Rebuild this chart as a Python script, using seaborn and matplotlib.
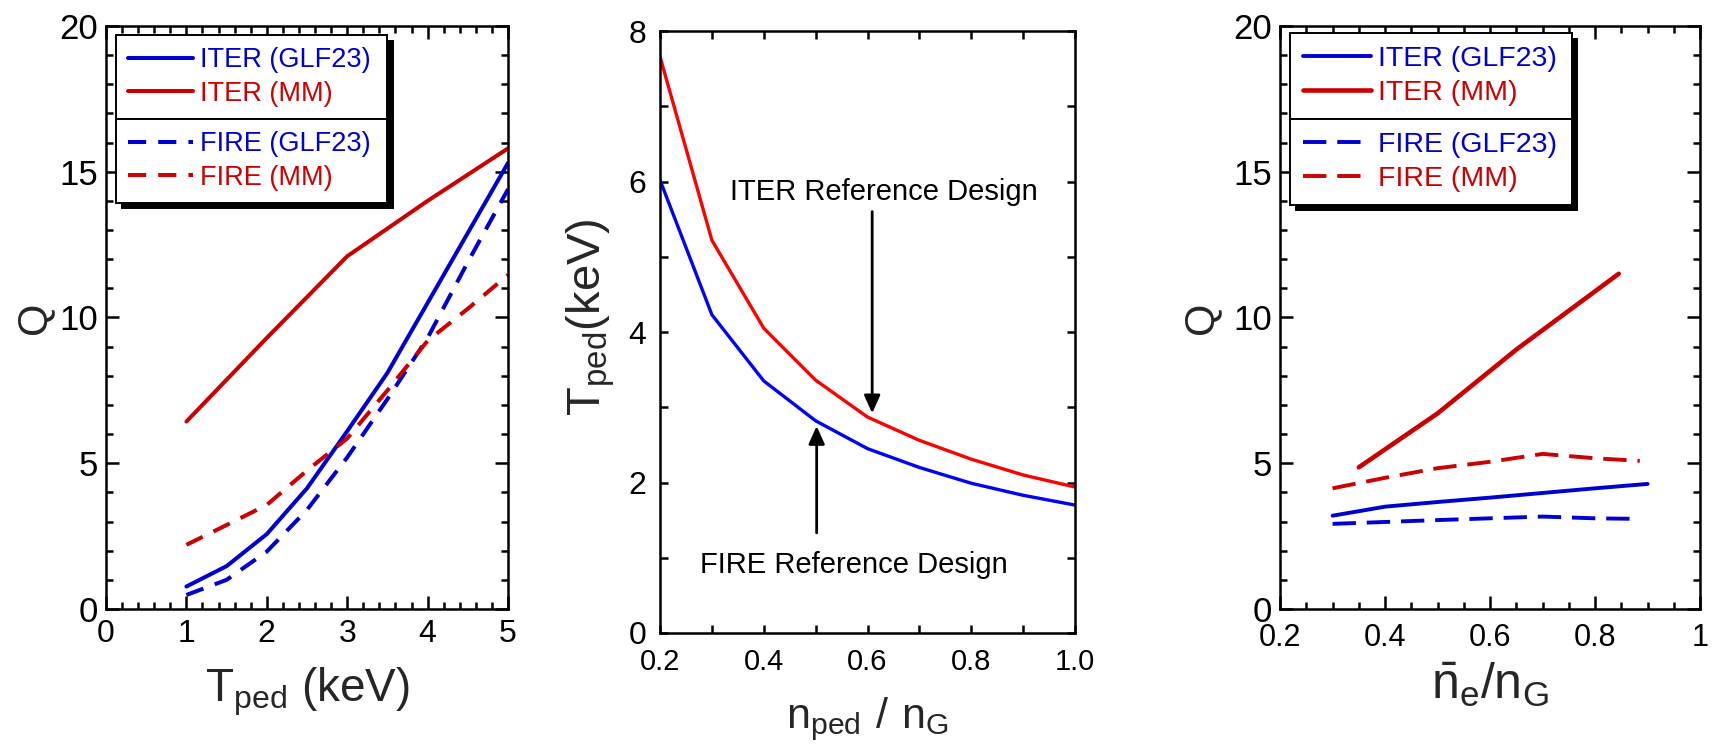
import numpy as np
import pandas as pd
import matplotlib
matplotlib.use("Agg")
import matplotlib.pyplot as plt
import seaborn as sns
from matplotlib.ticker import MultipleLocator, FixedLocator
from matplotlib.font_manager import FontProperties

# ---------------- data ----------------
# Left panel: Q vs T_ped
t_ped = [1, 1.5, 2, 2.5, 3, 3.5, 4, 4.5, 5]
t_ped_mm = [1, 2, 3, 4, 5]
q_iter_glf23 = [0.77, 1.47, 2.57, 4.14, 6.1, 8.1, 10.5, 12.9, 15.3]
q_iter_mm = [6.43, 9.3, 12.1, 14.0, 15.8]
q_fire_glf23 = [0.48, 1.0, 1.97, 3.4, 5.2, 7.2, 9.3, 11.9, 14.4]
q_fire_mm = [2.2, 2.88, 3.57, 4.75, 5.85, 7.5, 9.2, 10.3, 11.46]

# Middle panel: T_ped vs n_ped/n_G
n_ped = [0.2, 0.3, 0.4, 0.5, 0.6, 0.7, 0.8, 0.9, 1.0]
tped_iter = [7.66, 5.22, 4.05, 3.36, 2.87, 2.56, 2.31, 2.10, 1.94]
tped_fire = [6.02, 4.23, 3.35, 2.82, 2.45, 2.20, 1.99, 1.83, 1.70]

# Right panel: Q vs nbar_e/n_G
ne_iter_glf23 = [0.3, 0.4, 0.5, 0.6, 0.7, 0.8, 0.9]
qn_iter_glf23 = [3.2, 3.51, 3.67, 3.82, 3.98, 4.14, 4.29]
ne_iter_mm = [0.35, 0.5, 0.65, 0.845]
qn_iter_mm = [4.86, 6.71, 8.9, 11.5]
ne_fire_glf23 = [0.3, 0.5, 0.7, 0.8, 0.885]
qn_fire_glf23 = [2.92, 3.05, 3.17, 3.11, 3.09]
ne_fire_mm = [0.3, 0.4, 0.5, 0.6, 0.7, 0.8, 0.885]
qn_fire_mm = [4.14, 4.5, 4.83, 5.05, 5.32, 5.17, 5.08]

legend_labels = ["ITER (GLF23)", "ITER (MM)", "FIRE (GLF23)", "FIRE (MM)"]

# ---------------- style ----------------
sns.set_theme(style="ticks")
REG = ["Liberation Sans", "DejaVu Sans"]
plt.rcParams["font.family"] = REG
plt.rcParams["axes.edgecolor"] = "black"
plt.rcParams["xtick.color"] = "black"
plt.rcParams["ytick.color"] = "black"

BLUE = "#0000d0"
RED = "#cc0000"
BLUE2 = "#0000ff"
RED2 = "#ff0000"

fig = plt.figure(figsize=(17.35, 7.55), dpi=100)
fig.patch.set_facecolor("white")
ax1 = fig.add_axes([0.0611, 0.1934, 0.2317, 0.7722])
ax2 = fig.add_axes([0.3804, 0.1616, 0.2392, 0.7973])
ax3 = fig.add_axes([0.7378, 0.1934, 0.2421, 0.7722])


def draw(ax, x, y, color, lw, dashes=None):
    df = pd.DataFrame({"x": x, "y": y})
    sns.lineplot(data=df, x="x", y="y", ax=ax, color=color, linewidth=lw,
                 sort=False, estimator=None)
    line = ax.lines[-1]
    if dashes is not None:
        line.set_dashes(dashes)
    return line


def style(ax, major_len, minor_len, pad_x, pad_y, xsize, ysize):
    ax.tick_params(which="both", direction="in", top=True, right=True,
                   width=1.8)
    ax.tick_params(which="major", length=major_len)
    ax.tick_params(which="minor", length=minor_len)
    ax.tick_params(axis="x", which="major", pad=pad_x, labelsize=xsize)
    ax.tick_params(axis="y", which="major", pad=pad_y, labelsize=ysize)
    for s in ax.spines.values():
        s.set_visible(True)
        s.set_linewidth(1.8)
        s.set_color("black")
    ax.set_facecolor("white")
    ax.grid(False)


def add_legends(ax, lines, x0, w, mid, fs):
    prop = FontProperties(family=REG, size=fs)
    common = dict(mode="expand", borderaxespad=0,
                  fancybox=False, framealpha=1, edgecolor="black",
                  labelcolor="linecolor", prop=prop, handlelength=2.4,
                  handletextpad=0.25, labelspacing=0.28, borderpad=0.45,
                  shadow={"ox": 4, "oy": -4, "color": "black", "alpha": 1})
    leg1 = ax.legend(lines[:2], legend_labels[:2], loc="lower left",
                     bbox_to_anchor=(x0, mid, w, 0.1), **common)
    leg1.get_frame().set_linewidth(1.4)
    ax.add_artist(leg1)
    leg2 = ax.legend(lines[2:], legend_labels[2:], loc="upper left",
                     bbox_to_anchor=(x0, mid - 0.1, w, 0.1), **common)
    leg2.get_frame().set_linewidth(1.4)


# ---------------- left panel ----------------
DL = (4.5, 3.0)
l1 = draw(ax1, t_ped, q_iter_glf23, BLUE, 2.9)
l2 = draw(ax1, t_ped_mm, q_iter_mm, RED, 2.9)
l3 = draw(ax1, t_ped, q_fire_glf23, BLUE, 2.9, DL)
l4 = draw(ax1, t_ped, q_fire_mm, RED, 2.9, DL)
ax1.set_xlim(0, 5)
ax1.set_ylim(0, 20)
ax1.xaxis.set_major_locator(MultipleLocator(1))
ax1.xaxis.set_minor_locator(MultipleLocator(0.2))
ax1.yaxis.set_major_locator(MultipleLocator(5))
ax1.yaxis.set_minor_locator(MultipleLocator(1))
style(ax1, 9.5, 5, 7, 5.5, 23, 25)
ax1.set_xlabel(r"$\mathregular{T_{ped}}$ (keV)", fontsize=33)
ax1.set_ylabel("Q", fontsize=30)
ax1.xaxis.set_label_coords(0.5, -0.097)
ax1.yaxis.set_label_coords(-0.13, 0.5)
add_legends(ax1, [l1, l2, l3, l4], 0.025, 0.674, 0.8405, 19.5)

# ---------------- middle panel ----------------
draw(ax2, n_ped, tped_fire, BLUE2, 2.4)
draw(ax2, n_ped, tped_iter, RED2, 2.4)
ax2.set_xlim(0.2, 1.0)
ax2.set_ylim(0, 8)
ax2.xaxis.set_major_locator(FixedLocator([0.2, 0.4, 0.6, 0.8, 1.0]))
ax2.xaxis.set_major_formatter(plt.FuncFormatter(lambda v, p: f"{v:.1f}"))
ax2.xaxis.set_minor_locator(MultipleLocator(0.1))
ax2.yaxis.set_major_locator(MultipleLocator(2))
ax2.yaxis.set_minor_locator(MultipleLocator(1))
style(ax2, 6, 6, 11, 10, 21, 23)
ax2.set_xlabel(r"$\mathregular{n_{ped}\ /\ n_G}$", fontsize=31)
ax2.set_ylabel(r"$\mathregular{T_{ped}(keV)}$", fontsize=34)
ax2.xaxis.set_label_coords(0.5, -0.103)
ax2.yaxis.set_label_coords(-0.104, 0.525)

arrow_kw = dict(arrowstyle="-|>,head_length=0.6,head_width=0.27",
                color="black", lw=2.0, shrinkA=0, shrinkB=0,
                mutation_scale=18)
ax2.annotate("", xy=(0.609, 2.92), xytext=(0.609, 5.6), arrowprops=arrow_kw)
ax2.annotate("", xy=(0.502, 2.75), xytext=(0.502, 1.33), arrowprops=arrow_kw)
ax2.text(0.632, 5.754, "ITER Reference Design", ha="center", va="baseline",
         fontsize=21, color="black")
ax2.text(0.573, 0.793, "FIRE Reference Design", ha="center", va="baseline",
         fontsize=21, color="black")

# ---------------- right panel ----------------
DR = (6.0, 2.8)
r1 = draw(ax3, ne_iter_glf23, qn_iter_glf23, BLUE, 2.8)
r2 = draw(ax3, ne_iter_mm, qn_iter_mm, RED, 3.3)
r3 = draw(ax3, ne_fire_glf23, qn_fire_glf23, BLUE, 2.8, DR)
r4 = draw(ax3, ne_fire_mm, qn_fire_mm, RED, 2.8, DR)
ax3.set_xlim(0.2, 1.0)
ax3.set_ylim(0, 20)
ax3.xaxis.set_major_locator(FixedLocator([0.2, 0.4, 0.6, 0.8, 1.0]))
ax3.xaxis.set_major_formatter(
    plt.FuncFormatter(lambda v, p: "1" if abs(v - 1) < 1e-9 else f"{v:.1f}"))
ax3.xaxis.set_minor_locator(MultipleLocator(0.05))
ax3.yaxis.set_major_locator(MultipleLocator(5))
ax3.yaxis.set_minor_locator(MultipleLocator(1))
style(ax3, 9.5, 5, 10, 5.5, 22, 25)
ax3.set_xlabel(r"$\mathregular{\bar{n}_e/n_G}$", fontsize=36)
ax3.set_ylabel("Q", fontsize=30)
ax3.xaxis.set_label_coords(0.5, -0.088)
ax3.yaxis.set_label_coords(-0.14, 0.5)
add_legends(ax3, [r1, r2, r3, r4], 0.0238, 0.671, 0.8405, 20.5)

fig.savefig("out.png", dpi=100, facecolor="white")
